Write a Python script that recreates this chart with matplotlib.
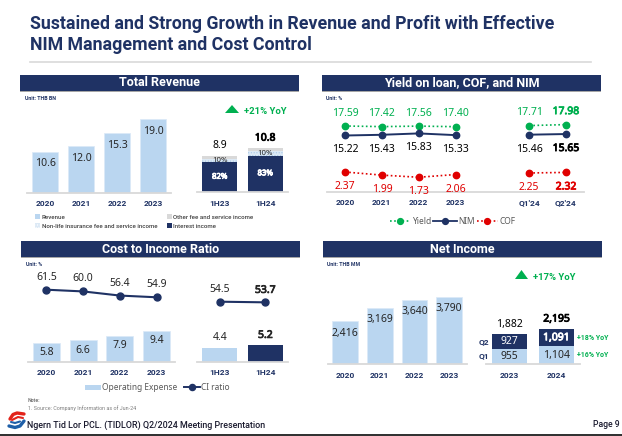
import matplotlib
matplotlib.use("Agg")
import matplotlib.pyplot as plt
import matplotlib.patheffects as pe
from matplotlib.lines import Line2D
from matplotlib.patches import Rectangle, Polygon

W = 622
H = 436
NAVY = "#1f3264"
LIGHT = "#bad6f0"
GREEN = "#00b050"
RED = "#e00000"
GRAY = "#d9d9d9"
TEXT = "#262626"

plt.rcParams["font.family"] = ["Noto Sans", "DejaVu Sans"]
plt.rcParams["hatch.linewidth"] = 0.5

# Total revenue
rev_years = ["2020", "2021", "2022", "2023"]
rev_values = [10.6, 12.0, 15.3, 19.0]
rev_half = ["1H23", "1H24"]
rev_half_totals = [8.9, 10.8]
rev_interest_share = [82, 83]
rev_nonlife_share = [10, 10]
rev_other_share = [8, 7]

# Yield, NIM, COF
rate_labels = ["2020", "2021", "2022", "2023", "Q1'24", "Q2'24"]
rate_pos_year = [0, 1, 2, 3]
rate_pos_quarter = [5, 6]
yield_values = [17.59, 17.42, 17.56, 17.40]
yield_quarter = [17.71, 17.98]
nim_values = [15.22, 15.43, 15.83, 15.33]
nim_quarter = [15.46, 15.65]
cof_values = [2.37, 1.99, 1.73, 2.06]
cof_quarter = [2.25, 2.32]

# Cost to income
opex_values = [5.8, 6.6, 7.9, 9.4]
ci_values = [61.5, 60.0, 56.4, 54.9]
opex_half = [4.4, 5.2]
ci_half = [54.5, 53.7]

# Net income
ni_values = [2416, 3169, 3640, 3790]
ni_half_years = ["2023", "2024"]
ni_q1 = [955, 1104]
ni_q2 = [927, 1091]
ni_half_totals = [1882, 2195]

fig = plt.figure(figsize=(W / 100, H / 100), dpi=100, facecolor="white")


def px_axes(x0, x1, y_top, y_bot):
    ax = fig.add_axes([x0 / W, 1 - y_bot / H, (x1 - x0) / W, (y_bot - y_top) / H])
    ax.patch.set_alpha(0)
    for s in ax.spines.values():
        s.set_visible(False)
    ax.set_xticks([])
    ax.set_yticks([])
    return ax


def set_scale(ax, y_top, y_bot, value, at_px, per_unit):
    # pin a value to a pixel row, with a given pixels per unit
    ax.set_ylim(value - (y_bot - at_px) / per_unit, value + (at_px - y_top) / per_unit)


def txt(x, y, s, size=6.5, color=TEXT, ha="left", weight="normal", family="Roboto"):
    return fig.text(x / W, 1 - y / H, s, fontsize=size, color=color, ha=ha, va="center",
                    fontweight=weight, family=family)


def lab(ax, x, y, s, dy, size=7.5, color=TEXT, bold=False):
    # Noto Sans has no bold installed, so a thin stroke thickens the highlighted labels
    t = ax.annotate(s, (x, y), xytext=(0, dy), textcoords="offset pixels", ha="center", va="center",
                    fontsize=size, color=color, annotation_clip=False)
    if bold:
        t.set_path_effects([pe.withStroke(linewidth=0.6, foreground=color)])


def base_axis(ax, positions, labels, pad=5):
    ax.spines["bottom"].set_visible(True)
    ax.spines["bottom"].set_color(GRAY)
    ax.spines["bottom"].set_linewidth(1.3)
    ax.set_xticks(positions)
    ax.set_xticklabels(labels, fontsize=6, color=NAVY, fontweight="bold", family="Roboto")
    ax.tick_params(axis="x", length=0, pad=pad)


def header(x0, x1, y0, y1, s):
    fig.add_artist(Rectangle((x0 / W, 1 - (y1 + 1) / H), (x1 - x0) / W, 1 / H, transform=fig.transFigure,
                             color="#a6a6a6", lw=0))
    fig.add_artist(Rectangle((x0 / W, 1 - y1 / H), (x1 - x0) / W, (y1 - y0) / H, transform=fig.transFigure,
                             color=NAVY, lw=0))
    txt((x0 + x1) / 2, (y0 + y1) / 2, s, size=9, color="white", ha="center", weight="bold")


def triangle(x0, x1, y_top, y_bot):
    fig.add_artist(Polygon([(x0 / W, 1 - y_bot / H), (x1 / W, 1 - y_bot / H), ((x0 + x1) / 2 / W, 1 - y_top / H)],
                           transform=fig.transFigure, color=GREEN, lw=0))


def swatch(x0, x1, y0, y1, color, hatch=None):
    fig.add_artist(Rectangle((x0 / W, 1 - y1 / H), (x1 - x0) / W, (y1 - y0) / H, transform=fig.transFigure,
                             facecolor=color, edgecolor="white" if hatch else color, lw=0, hatch=hatch))


# title block
txt(30, 24, "Sustained and Strong Growth in Revenue and Profit with Effective", size=12.8, color=NAVY,
    weight="bold")
txt(30, 45, "NIM Management and Cost Control", size=12.8, color=NAVY, weight="bold")
fig.add_artist(Line2D([30 / W, 591 / W], [1 - 62 / H, 1 - 62 / H], color=GRAY, lw=1.2))

header(20, 299, 75, 91, "Total Revenue")
header(322, 601, 75, 91, "Yield on loan, COF, and NIM")
header(21, 300, 241, 257, "Cost to Income Ratio")
header(323, 602, 241, 257, "Net Income")

txt(25, 98, "Unit: THB BN", size=3.8, color=NAVY, weight="bold")
txt(326, 98, "Unit: %", size=3.8, color=NAVY, weight="bold")
txt(26, 265, "Unit: %", size=3.8, color=NAVY, weight="bold")
txt(327, 264, "Unit: THB MM", size=3.8, color=NAVY, weight="bold")

# total revenue, yearly bars
ax = px_axes(27, 171, 100, 193)
set_scale(ax, 100, 193, 0, 193, 3.89)
ax.set_xlim(-0.5, 3.5)
ax.bar(range(4), rev_values, width=0.74, color=LIGHT, edgecolor="#dbe9f7", lw=0.5)
for i, v in enumerate(rev_values):
    lab(ax, i, v, "%.1f" % v, -12)
base_axis(ax, range(4), rev_years)

# total revenue, half year stack
ax = px_axes(197, 288, 100, 192)
set_scale(ax, 100, 192, 0, 192, 4.06)
ax.set_xlim(-0.5, 1.5)
interest = [t * s / 100 for t, s in zip(rev_half_totals, rev_interest_share)]
nonlife = [t * s / 100 for t, s in zip(rev_half_totals, rev_nonlife_share)]
other = [t * s / 100 for t, s in zip(rev_half_totals, rev_other_share)]
low = [a + b for a, b in zip(interest, nonlife)]
ax.bar(range(2), interest, width=0.76, color=NAVY)
ax.bar(range(2), nonlife, bottom=interest, width=0.76, color="#dce9f5", edgecolor="#a9c8e8", lw=0, hatch="......")
ax.bar(range(2), other, bottom=low, width=0.76, color=GRAY)
for i in range(2):
    lab(ax, i, interest[i] / 2, "%d%%" % rev_interest_share[i], 0, size=5.6, color="white", bold=True)
    lab(ax, i, interest[i] + nonlife[i] / 2, "%d%%" % rev_nonlife_share[i], 0, size=5.6)
    lab(ax, i, rev_half_totals[i], "%.1f" % rev_half_totals[i], 10, color="black", bold=i == 1)
base_axis(ax, range(2), rev_half, pad=6)

triangle(225, 239, 105, 113)
txt(244, 111, "+21% YoY", size=6.8, color=GREEN, weight="bold")

swatch(35, 40, 214, 219, LIGHT)
txt(42, 217, "Revenue", size=4.4, color="#404040", weight="medium")
swatch(35, 40, 223, 228, "#dce9f5", hatch="......")
txt(42, 226, "Non-life insurance fee and service income", size=4.4, color="#404040", weight="medium")
swatch(167, 172, 214, 219, GRAY)
txt(173, 217, "Other fee and service income", size=4.4, color="#404040", weight="medium")
swatch(167, 172, 223, 228, NAVY)
txt(173, 226, "Interest income", size=4.4, color="#404040", weight="medium")

# yield, NIM and COF; each series has its own scale
ax = px_axes(327, 584, 100, 192)
ax.set_xlim(-0.49, 6.49)
ax.set_ylim(0, 1)
base_axis(ax, rate_pos_year + rate_pos_quarter, rate_labels)

ax_y = px_axes(327, 584, 100, 192)
ax_y.set_xlim(-0.49, 6.49)
set_scale(ax_y, 100, 192, 17.59, 126, 3.6)
ax_n = px_axes(327, 584, 100, 192)
ax_n.set_xlim(-0.49, 6.49)
set_scale(ax_n, 100, 192, 15.22, 135.5, 3.4)
ax_c = px_axes(327, 584, 100, 192)
ax_c.set_xlim(-0.49, 6.49)
set_scale(ax_c, 100, 192, 2.37, 172, 8.2)

for pos, ys, ns, cs, last_bold in [(rate_pos_year, yield_values, nim_values, cof_values, False),
                                   (rate_pos_quarter, yield_quarter, nim_quarter, cof_quarter, True)]:
    ax_y.plot(pos, ys, color=GREEN, lw=1.2, ls=(0, (1, 1.5)), marker="o", ms=4.6)
    ax_n.plot(pos, ns, color=NAVY, lw=1.4, marker="o", ms=4.6)
    ax_c.plot(pos, cs, color=RED, lw=1.2, ls=(0, (1, 1.5)), marker="o", ms=4.6)
    for i, x in enumerate(pos):
        b = last_bold and i == 1
        lab(ax_y, x, ys[i], "%.2f" % ys[i], 13, color=GREEN, bold=b)
        lab(ax_n, x, ns[i], "%.2f" % ns[i], -14.5, color="black", bold=b)
        lab(ax_c, x, cs[i], "%.2f" % cs[i], -14.5, color=RED, bold=b)

leg = px_axes(385, 520, 214, 228)
leg.set_xlim(385, 520)
leg.set_ylim(228, 214)
leg.plot([390, 410], [221, 221], color=GREEN, lw=1.2, ls=(0, (1, 1.5)))
leg.plot([400], [221], color=GREEN, marker="o", ms=4.2)
leg.plot([433, 457], [221, 221], color=NAVY, lw=1.3)
leg.plot([445], [221], color=NAVY, marker="o", ms=4.2)
leg.plot([477, 498], [221, 221], color=RED, lw=1.2, ls=(0, (1, 1.5)))
leg.plot([487], [221], color=RED, marker="o", ms=4.2)
txt(413, 221, "Yield", size=6, color="#595959", family="Noto Sans")
txt(458, 221, "NIM", size=6, color="#595959", family="Noto Sans")
txt(500, 221, "COF", size=6, color="#595959", family="Noto Sans")

# cost to income, yearly
ax = px_axes(28, 175, 275, 362)
set_scale(ax, 275, 362, 0, 362, 3.3)
ax.set_xlim(-0.5, 3.5)
ax.bar(range(4), opex_values, width=0.74, color=LIGHT, edgecolor="#dbe9f7", lw=0.5)
for i, v in enumerate(opex_values):
    lab(ax, i, v, "%.1f" % v, -10)
base_axis(ax, range(4), rev_years)
ax2 = px_axes(28, 175, 275, 362)
ax2.set_xlim(-0.5, 3.5)
set_scale(ax2, 275, 362, 61.5, 289.7, 1.15)
ax2.plot(range(4), ci_values, color=NAVY, lw=1.5, marker="o", ms=5)
for i, v in enumerate(ci_values):
    lab(ax2, i, v, "%.1f" % v, 12.5)

# cost to income, half year
ax = px_axes(197, 288, 275, 362)
set_scale(ax, 275, 362, 0, 362, 3.2)
ax.set_xlim(-0.5, 1.5)
ax.bar(range(2), opex_half, width=0.76, color=[LIGHT, NAVY])
for i, v in enumerate(opex_half):
    lab(ax, i, v, "%.1f" % v, 10, bold=i == 1)
base_axis(ax, range(2), rev_half)
ax2 = px_axes(197, 288, 275, 362)
ax2.set_xlim(-0.5, 1.5)
set_scale(ax2, 275, 362, 54.5, 301.7, 0.8)
ax2.plot(range(2), ci_half, color=NAVY, lw=1.5, marker="o", ms=5)
for i, v in enumerate(ci_half):
    lab(ax2, i, v, "%.1f" % v, 12, bold=i == 1)

swatch(85, 101, 384.5, 389.5, LIGHT)
txt(102, 387, "Operating Expense", size=6, color="#595959", family="Noto Sans")
fig.add_artist(Line2D([184 / W, 200 / W], [1 - 387 / H, 1 - 387 / H], color=NAVY, lw=1.4))
fig.add_artist(Line2D([192 / W], [1 - 387 / H], color=NAVY, marker="o", ms=4.4))
txt(201, 387, "CI ratio", size=6, color="#595959", family="Noto Sans")

# net income, yearly
ax = px_axes(327.6, 466.6, 275, 364)
set_scale(ax, 275, 364, 0, 364, 0.01768)
ax.set_xlim(-0.5, 3.5)
ax.bar(range(4), ni_values, width=0.74, color=LIGHT, edgecolor="#dbe9f7", lw=0.5)
for i, v in enumerate(ni_values):
    lab(ax, i, v, "{:,}".format(v), -12)
base_axis(ax, range(4), rev_years, pad=5.5)

# net income, half year stack
ax = px_axes(486, 580, 275, 364)
set_scale(ax, 275, 364, 0, 364, 0.0159)
ax.set_xlim(-0.5, 1.5)
ax.bar(range(2), ni_q1, width=0.74, color=LIGHT)
ax.bar(range(2), ni_q2, bottom=ni_q1, width=0.74, color=NAVY)
for i in range(2):
    lab(ax, i, ni_q1[i] / 2, "{:,}".format(ni_q1[i]), 0, color=TEXT)
    lab(ax, i, ni_q1[i] + ni_q2[i] / 2, "{:,}".format(ni_q2[i]), 0, color="white", bold=i == 1)
    lab(ax, i, ni_half_totals[i], "{:,}".format(ni_half_totals[i]), 10, color="black", bold=i == 1)
base_axis(ax, range(2), ni_half_years, pad=5.5)

txt(484, 342, "Q2", size=6, color=NAVY, ha="center", weight="bold")
txt(484, 356, "Q1", size=6, color=NAVY, ha="center", weight="bold")
txt(577, 338, "+18% YoY", size=5, color=GREEN, weight="bold")
txt(577, 355, "+16% YoY", size=5, color=GREEN, weight="bold")
triangle(515, 528, 270, 279)
txt(533, 278, "+17% YoY", size=6.8, color=GREEN, weight="bold")

# footer
txt(28, 400, "Note:", size=3.8, color="#7f7f7f", weight="bold")
txt(28, 408, "1. Source: Company Information as of Jun-24", size=3.9, color="#7f7f7f")
txt(27, 425, "Ngern Tid Lor PCL. (TIDLOR) Q2/2024 Meeting Presentation", size=6.4, color="#1a1a2e",
    weight="medium")
txt(593, 424, "Page 9", size=6.2, color="#1a1a2e", weight="medium")
fig.add_artist(Rectangle((0, 0), 1, 2 / H, transform=fig.transFigure, color="#333333", lw=0))

logo = px_axes(7, 27, 411, 431)
logo.set_xlim(7, 27)
logo.set_ylim(431, 411)
logo.plot([10, 13, 17, 24], [419, 414.5, 413, 414], color="#e2231a", lw=2.4, solid_capstyle="round")
logo.plot([12, 18, 23], [420, 417, 418], color="#e2231a", lw=1.5, solid_capstyle="round")
logo.plot([9, 15, 20, 24], [426, 427.5, 426, 421], color="#1f5fa8", lw=2.4, solid_capstyle="round")
logo.plot([11, 15, 20], [422, 423, 421.5], color="#1f5fa8", lw=1.5, solid_capstyle="round")

fig.savefig("out.png", dpi=100)
